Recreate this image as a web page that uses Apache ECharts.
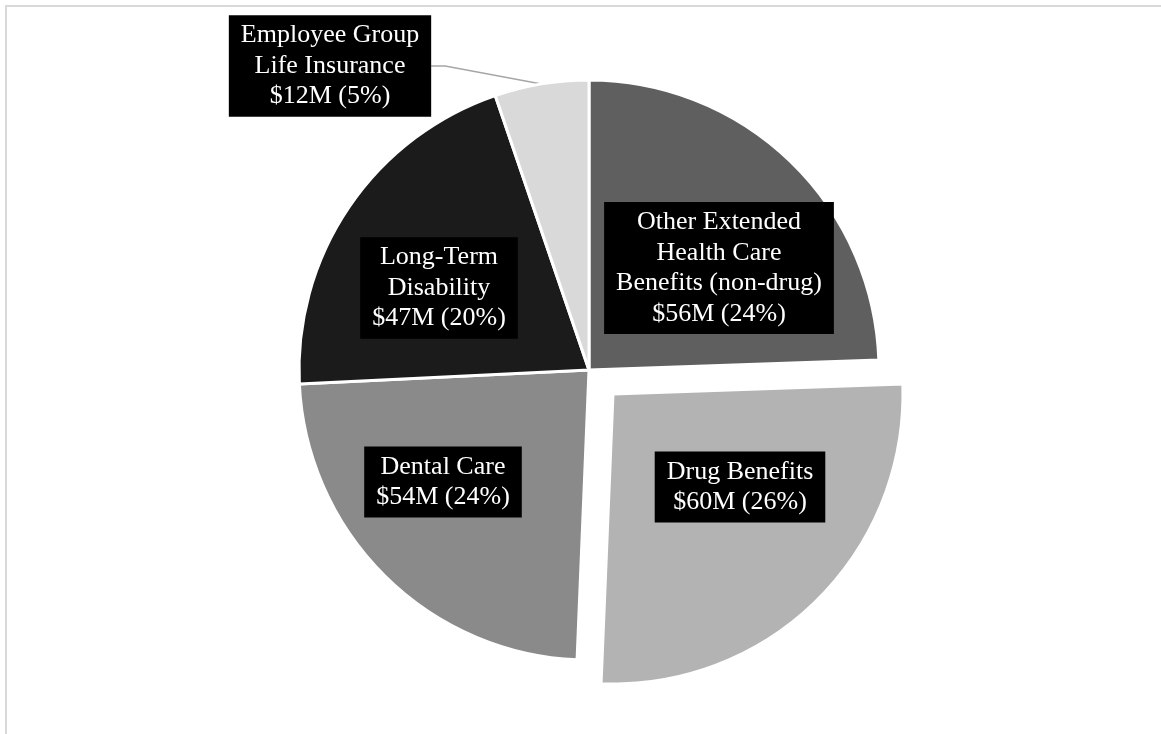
<!DOCTYPE html>
<html>
  <head>
    <meta charset="utf-8" />
    <title>Benefits cost</title>
    <script src="https://cdn.jsdelivr.net/npm/echarts@6/dist/echarts.min.js"></script>
    <style type="text/css">
      html, body { margin: 0; padding: 0; background: #fff; }
      #chart { width: 1161px; height: 734px; }
    </style>
  </head>
  <body>
    <div id="chart"></div>
    <script type="text/javascript">
      // data, clockwise from 12 o'clock
      var categories = [
        'Other Extended\nHealth Care\nBenefits (non-drug)',
        'Drug Benefits',
        'Dental Care',
        'Long-Term\nDisability',
        'Employee Group\nLife Insurance'
      ];
      var values = [56, 60, 54, 47, 12];       // $M
      var percents = [24, 26, 24, 20, 5];      // as printed on the labels
      var colors = ['#5f5f5f', '#b3b3b3', '#8a8a8a', '#1b1b1b', '#d9d9d9'];

      // where each label box sits (centre, px)
      var labelPos = [[719, 268], [740, 487], [443, 482], [439, 288], [330, 66]];

      var pieCenter = [589, 370];
      var explodedCenter = [613, 394];   // drug slice pulled out to the lower right
      var explodedIndex = 1;

      var chart = echarts.init(document.getElementById('chart'));

      // same slices twice: the first pie draws all but the pulled-out one,
      // the second draws only that one, shifted
      function makeData(pulled) {
        return values.map(function (v, i) {
          var visible = pulled ? i === explodedIndex : i !== explodedIndex;
          var item = { name: categories[i], value: v, itemStyle: { color: colors[i] } };
          if (!visible) {
            item.itemStyle.opacity = 0;
            item.label = { show: false };
            item.labelLine = { show: false };
          } else if (i === 4) {
            item.label = { position: 'outside' };
            item.labelLine = { show: true, length: 10, length2: 14 };
          }
          return item;
        });
      }

      function makeSeries(center, pulled) {
        return {
          type: 'pie',
          center: center,
          radius: 290,
          startAngle: 90,
          clockwise: true,
          avoidLabelOverlap: false,
          data: makeData(pulled),
          itemStyle: { borderColor: '#fff', borderWidth: 3 },
          label: {
            show: true,
            position: 'inside',
            formatter: function (p) {
              return p.name + '\n$' + values[p.dataIndex] + 'M (' + percents[p.dataIndex] + '%)';
            },
            color: '#fff',
            backgroundColor: '#000',
            fontFamily: '"Liberation Serif", "Times New Roman", serif',
            fontSize: 26,
            lineHeight: 30.5,
            align: 'center',
            padding: [5, 12]
          },
          labelLine: {
            lineStyle: { color: '#a6a6a6', width: 1.5 }
          },
          labelLayout: function (p) {
            var pos = labelPos[p.dataIndex];
            return { x: pos[0], y: pos[1], align: 'center', verticalAlign: 'middle' };
          },
          emphasis: { disabled: true }
        };
      }

      var option = {
        animation: false,
        graphic: [{
          type: 'rect',
          shape: { x: 6, y: 6, width: 1300, height: 900 },
          style: { fill: 'none', stroke: '#d9d9d9', lineWidth: 2 },
          silent: true
        }],
        series: [makeSeries(pieCenter, false), makeSeries(explodedCenter, true)]
      };
      chart.setOption(option);
    </script>
  </body>
</html>
